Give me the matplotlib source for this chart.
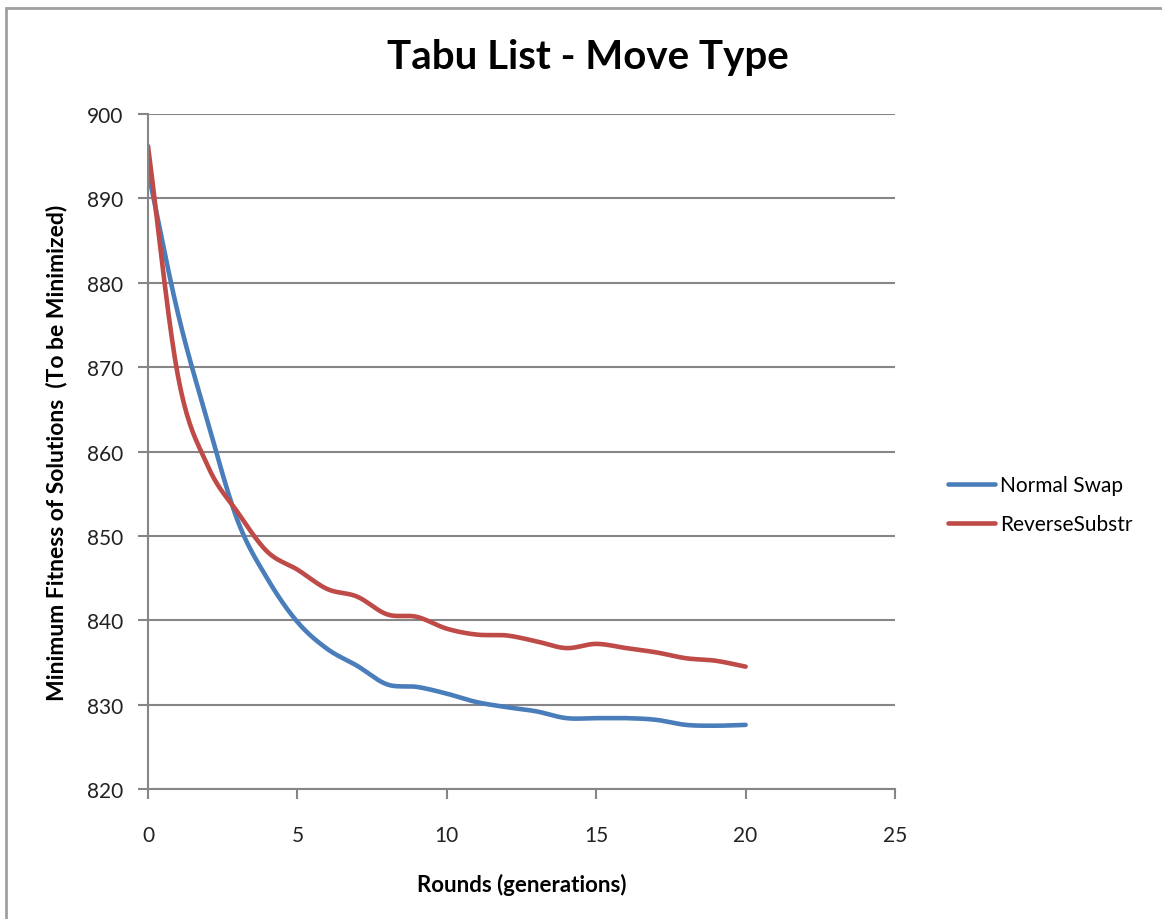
import matplotlib

matplotlib.use("Agg")
import matplotlib.pyplot as plt
import numpy as np
from matplotlib.patches import Rectangle

# data
rounds = list(range(21))
normal_swap = [893.2, 876.4, 863.5, 851.8, 844.9, 839.8, 836.6, 834.6, 832.4, 832.1,
               831.3, 830.3, 829.7, 829.2, 828.4, 828.4, 828.4, 828.2, 827.6, 827.5, 827.6]
reverse_substr = [896.2, 869.0, 858.3, 852.8, 848.1, 846.0, 843.7, 842.8, 840.7, 840.4,
                  839.0, 838.3, 838.2, 837.5, 836.7, 837.2, 836.7, 836.2, 835.5, 835.2, 834.5]
series_names = ["Normal Swap", "ReverseSubstr"]
colors = ["#4a7ebb", "#be4b48"]

GRID = "#868686"


def smooth(x, y, n=20):
    """Catmull-Rom spline through the points, like Excel's smoothed line."""
    x = np.asarray(x, float)
    y = np.asarray(y, float)
    px = np.concatenate([[2 * x[0] - x[1]], x, [2 * x[-1] - x[-2]]])
    py = np.concatenate([[2 * y[0] - y[1]], y, [2 * y[-1] - y[-2]]])
    t = np.linspace(0, 1, n, endpoint=False)
    xs, ys = [], []
    for i in range(1, len(px) - 2):
        for p, out in ((px, xs), (py, ys)):
            p0, p1, p2, p3 = p[i - 1], p[i], p[i + 1], p[i + 2]
            out.extend(0.5 * (2 * p1 + (-p0 + p2) * t
                              + (2 * p0 - 5 * p1 + 4 * p2 - p3) * t ** 2
                              + (-p0 + 3 * p1 - 3 * p2 + p3) * t ** 3))
    xs.append(x[-1])
    ys.append(y[-1])
    return np.array(xs), np.array(ys)


plt.rcParams["font.family"] = ["Lato", "DejaVu Sans"]

fig = plt.figure(figsize=(11.62, 9.2), dpi=100)
fig.patches.append(Rectangle((6 / 1162, -0.1), 1.2, (920 - 9) / 920 + 0.1,
                             transform=fig.transFigure, fill=False,
                             edgecolor="#a0a0a0", linewidth=2))

ax = fig.add_axes([148 / 1162, 130 / 920, 747 / 1162, 675 / 920])

for vals, name, col in zip([normal_swap, reverse_substr], series_names, colors):
    sx, sy = smooth(rounds, vals)
    ax.plot(sx, sy, color=col, linewidth=3.3, label=name, solid_capstyle="round")

ax.set_xlim(0, 25)
ax.set_ylim(820, 900)
ax.set_xticks(range(0, 26, 5))
ax.set_yticks(range(820, 901, 10))
ax.grid(axis="y", color=GRID, linewidth=1.5)
ax.set_axisbelow(True)
for side in ("top", "right"):
    ax.spines[side].set_visible(False)
for side in ("left", "bottom"):
    ax.spines[side].set_color(GRID)
    ax.spines[side].set_linewidth(1.5)
ax.tick_params(direction="out", length=7, width=1.5, color=GRID,
               labelsize=15, labelcolor="#222222")
ax.tick_params(axis="x", pad=19)
ax.tick_params(axis="y", pad=11)

ax.set_xlabel("Rounds (generations)", fontsize=16, fontweight="bold", labelpad=20)
ax.set_ylabel("Minimum Fitness of Solutions  (To be Minimized)", fontsize=16.5,
              fontweight="bold", labelpad=14)
fig.text(588 / 1162, 1 - 58 / 920, "Tabu List - Move Type", fontsize=29,
         fontweight="bold", ha="center", va="center")

ax.legend(loc="center left", bbox_to_anchor=(1.071, 0.4215), frameon=False,
          fontsize=15, handlelength=2.25, handletextpad=0.25, labelspacing=0.9,
          borderpad=0, borderaxespad=0)

fig.savefig("out.png", dpi=100)
